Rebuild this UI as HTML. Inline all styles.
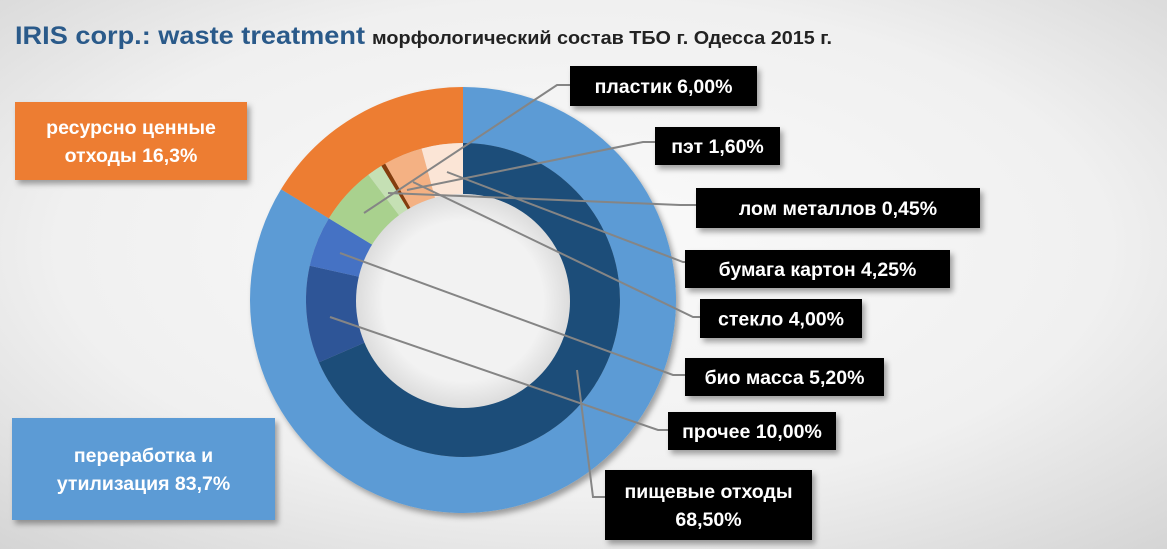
<!DOCTYPE html>
<html><head><meta charset="utf-8"><style>
html,body{margin:0;padding:0;width:1167px;height:549px;overflow:hidden}
svg{display:block}
text{font-family:"Liberation Sans","DejaVu Sans",sans-serif;font-weight:bold}
</style></head><body>
<svg id="s" width="1167" height="549" viewBox="0 0 1167 549" xmlns="http://www.w3.org/2000/svg">
<defs>
<radialGradient id="bg" cx="50%" cy="45%" r="75%">
<stop offset="0" stop-color="#fafafa"/><stop offset="0.6" stop-color="#f0f0f0"/><stop offset="1" stop-color="#d4d4d4"/>
</radialGradient>
<radialGradient id="hole" cx="50%" cy="50%" r="50%">
<stop offset="0.75" stop-color="#f2f2f2"/><stop offset="1" stop-color="#dcdcdc"/>
</radialGradient>
<filter id="sh" x="-20%" y="-20%" width="140%" height="150%"><feDropShadow dx="3" dy="4" stdDeviation="3" flood-color="#000" flood-opacity="0.35"/></filter>
</defs>
<rect width="1167" height="549" fill="url(#bg)"/>
<text x="15" y="44" font-size="25" fill="#2a5a8a" textLength="350" lengthAdjust="spacingAndGlyphs">IRIS corp.: waste treatment</text>
<text x="372" y="44" font-size="18" fill="#222" textLength="460" lengthAdjust="spacingAndGlyphs">морфологический состав ТБО г. Одесса 2015 г.</text>
<g id="donut" filter="url(#sh)"></g>
<circle cx="463" cy="301" r="107" fill="url(#hole)"/>
<g id="lines" stroke="#858585" stroke-width="2" fill="none"></g>
<g id="boxes"></g>
</svg>
<script>
var cx=463,cy=300,NS="http://www.w3.org/2000/svg";
function pt(r,a){var t=(a*3.6-90)*Math.PI/180;return [cx+r*Math.cos(t),cy+r*Math.sin(t)];}
function arc(r1,r2,a0,a1,col){var p=document.createElementNS(NS,"path");var l=(a1-a0)>50?1:0;
var A=pt(r2,a0),B=pt(r2,a1),C=pt(r1,a1),D=pt(r1,a0);
p.setAttribute("d","M"+A+" A"+r2+" "+r2+" 0 "+l+" 1 "+B+" L"+C+" A"+r1+" "+r1+" 0 "+l+" 0 "+D+"Z");
p.setAttribute("fill",col);document.getElementById("donut").appendChild(p);}
arc(157,213,0,83.7,"#5b9bd5");arc(157,213,83.7,100,"#ed7d31");
var inner=[[68.5,"#1f4e79"],[10,"#2f5597"],[5.2,"#4472c4"],[6,"#a9d18e"],[1.6,"#c5e0b4"],[0.45,"#843c0c"],[4,"#f4b183"],[4.25,"#fbe5d6"]];
var a=0;inner.forEach(function(s){arc(106,157,a,a+s[0],s[1]);a+=s[0];});
var L=[[364,213,557,85,570],[407,190,643,142,655],[388,193,680,205,696],[447,172,683,262,685],[413,182,693,317,700],[340,253,673,375,685],[330,317,658,430,668],[577,370,593,497,605]];
var g=document.getElementById("lines");
L.forEach(function(l){var p=document.createElementNS(NS,"polyline");p.setAttribute("points",l[0]+","+l[1]+" "+l[2]+","+l[3]+" "+l[4]+","+l[3]);g.appendChild(p);});
var B=[[570,66,187,40,"#000","#fff",["пластик  6,00%"]],[655,127,125,38,"#000","#fff",["пэт  1,60%"]],[696,188,284,40,"#000","#fff",["лом металлов 0,45%"]],
[685,250,265,38,"#000","#fff",["бумага картон 4,25%"]],[700,299,162,39,"#000","#fff",["стекло 4,00%"]],[685,358,199,38,"#000","#fff",["био масса 5,20%"]],
[668,412,168,38,"#000","#fff",["прочее 10,00%"]],[605,470,207,70,"#000","#fff",["пищевые отходы","68,50%"]],
[15,102,232,78,"#ed7d31","#fff",["ресурсно ценные","отходы  16,3%"]],[12,418,263,102,"#5b9bd5","#fff",["переработка и","утилизация 83,7%"]]];
var bg=document.getElementById("boxes");
B.forEach(function(b){var r=document.createElementNS(NS,"rect");r.setAttribute("x",b[0]);r.setAttribute("y",b[1]);r.setAttribute("width",b[2]);r.setAttribute("height",b[3]);r.setAttribute("fill",b[4]);r.setAttribute("filter","url(#sh)");bg.appendChild(r);
var n=b[6].length,lh=28;b[6].forEach(function(s,i){var t=document.createElementNS(NS,"text");t.setAttribute("x",b[0]+b[2]/2);t.setAttribute("y",b[1]+b[3]/2+(i-(n-1)/2)*lh+7);t.setAttribute("text-anchor","middle");t.setAttribute("font-size","19.5");t.setAttribute("fill",b[5]);t.textContent=s;bg.appendChild(t);});});
</script>
</body></html>
